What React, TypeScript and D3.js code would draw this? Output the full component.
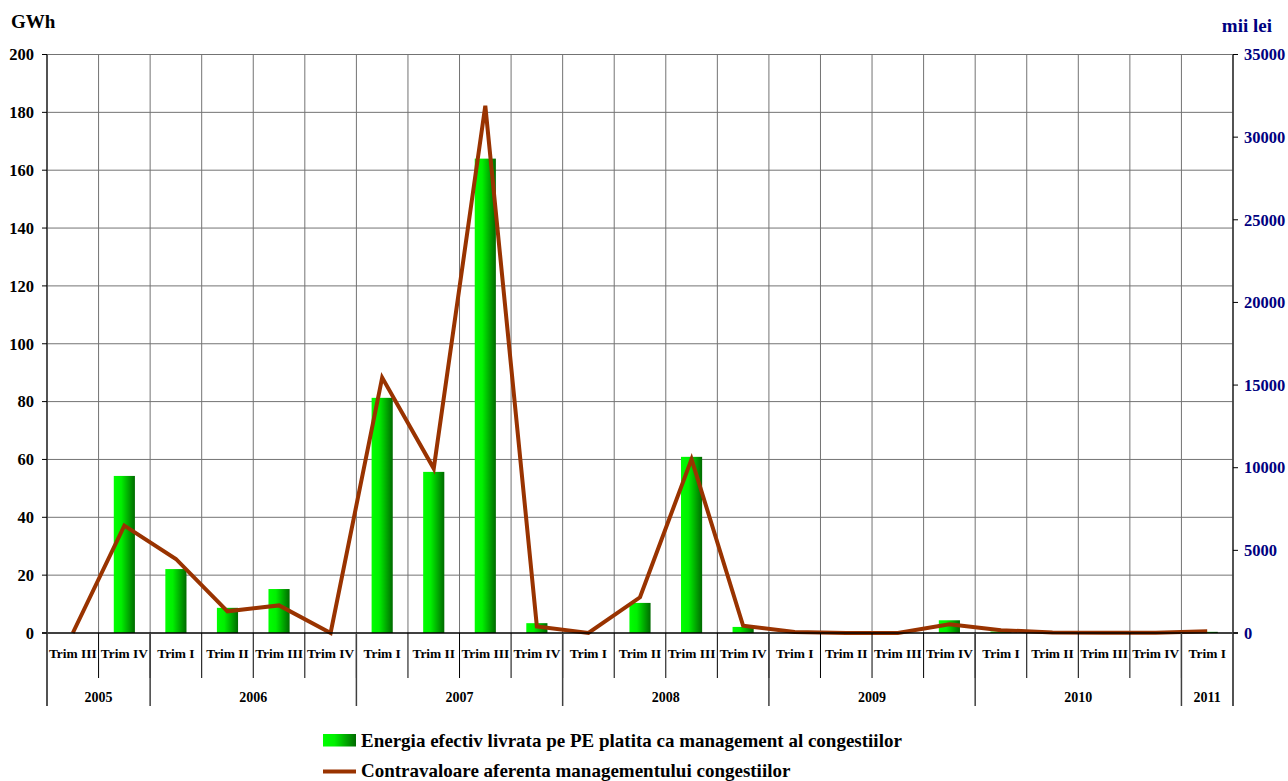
import { useEffect, useRef } from 'react'
import * as d3 from 'd3'

// quarters, in order, 2005 Trim III .. 2011 Trim I
const quarters = [
  'Trim III', 'Trim IV',
  'Trim I', 'Trim II', 'Trim III', 'Trim IV',
  'Trim I', 'Trim II', 'Trim III', 'Trim IV',
  'Trim I', 'Trim II', 'Trim III', 'Trim IV',
  'Trim I', 'Trim II', 'Trim III', 'Trim IV',
  'Trim I', 'Trim II', 'Trim III', 'Trim IV',
  'Trim I',
]

const years = ['2005', '2006', '2007', '2008', '2009', '2010', '2011']
const quartersPerYear = [2, 4, 4, 4, 4, 4, 1]

// GWh (left axis)
const energyGWh = [
  0, 54.3,
  22.1, 8.7, 15.2, 0,
  81.3, 55.7, 164, 3.4,
  0, 10.4, 60.9, 2.1,
  0, 0, 0, 4.4,
  0.5, 0, 0, 0,
  0.4,
]

// mii lei (right axis)
const valueMiiLei = [
  0, 6500,
  4480, 1310, 1670, 0,
  15450, 9950, 31900, 400,
  0, 2160, 10520, 440,
  60, 0, 0, 530,
  170, 30, 20, 20,
  110,
]

const leftTicks = [0, 20, 40, 60, 80, 100, 120, 140, 160, 180, 200]
const rightTicks = [0, 5000, 10000, 15000, 20000, 25000, 30000, 35000]

const legendBars = 'Energia efectiv livrata pe PE platita ca management al congestiilor'
const legendLine = 'Contravaloare aferenta managementului congestiilor'

const FONT = '"Liberation Serif", "Times New Roman", serif'

export default function App() {
  const svgRef = useRef<SVGSVGElement>(null)

  useEffect(() => {
    if (!svgRef.current) return
    const svg = d3.select(svgRef.current)
    svg.selectAll('*').remove()

    const left = 47
    const right = 1233
    const top = 54.5
    const zero = 633

    const idx = quarters.map((_, i) => i)
    const x = d3.scaleBand<number>().domain(idx).range([left, right]).padding(0)
    const yL = d3.scaleLinear().domain([0, 200]).range([zero, top])
    const yR = d3.scaleLinear().domain([0, 35000]).range([zero, top])
    const bw = x.bandwidth()

    const defs = svg.append('defs')
    const grad = defs.append('linearGradient')
      .attr('id', 'barGrad')
      .attr('x1', '0').attr('x2', '1').attr('y1', '0').attr('y2', '0')
    grad.append('stop').attr('offset', '0%').attr('stop-color', '#00ff00')
    grad.append('stop').attr('offset', '35%').attr('stop-color', '#00f000')
    grad.append('stop').attr('offset', '100%').attr('stop-color', '#006a00')

    // horizontal grid
    svg.append('g')
      .selectAll('line')
      .data(leftTicks.filter(d => d > 0))
      .enter().append('line')
      .attr('x1', left).attr('x2', right)
      .attr('y1', d => yL(d)).attr('y2', d => yL(d))
      .attr('stroke', '#737373').attr('stroke-width', 1)

    // vertical grid at category boundaries
    svg.append('g')
      .selectAll('line')
      .data(idx.slice(1))
      .enter().append('line')
      .attr('x1', d => x(d)!).attr('x2', d => x(d)!)
      .attr('y1', top).attr('y2', zero)
      .attr('stroke', '#737373').attr('stroke-width', 1)

    // bars
    svg.append('g')
      .selectAll('rect')
      .data(energyGWh)
      .enter().append('rect')
      .attr('x', (d, i) => x(i)! + bw * 0.295)
      .attr('width', bw * 0.41)
      .attr('y', d => yL(d))
      .attr('height', d => zero - yL(d))
      .attr('fill', 'url(#barGrad)')

    // line
    const line = d3.line<number>()
      .x((d, i) => x(i)! + bw / 2)
      .y(d => yR(d))
    svg.append('path')
      .datum(valueMiiLei)
      .attr('d', line)
      .attr('fill', 'none')
      .attr('stroke', '#993300')
      .attr('stroke-width', 4)
      .attr('stroke-linejoin', 'miter')

    // x axis line
    svg.append('line')
      .attr('x1', left - 5).attr('x2', right + 5)
      .attr('y1', zero).attr('y2', zero)
      .attr('stroke', '#000').attr('stroke-width', 1.5)

    // left axis
    const gl = svg.append('g')
    gl.append('line')
      .attr('x1', left).attr('x2', left).attr('y1', top).attr('y2', 706)
      .attr('stroke', '#404040').attr('stroke-width', 1.8)
    gl.selectAll('.tk').data(leftTicks).enter().append('line')
      .attr('x1', left - 5).attr('x2', left)
      .attr('y1', d => yL(d)).attr('y2', d => yL(d))
      .attr('stroke', '#000').attr('stroke-width', 1)
    gl.selectAll('text').data(leftTicks).enter().append('text')
      .attr('x', 34).attr('y', d => yL(d)).attr('dy', '0.35em')
      .attr('text-anchor', 'end')
      .style('font-family', FONT).style('font-weight', 'bold').style('font-size', '16.5px')
      .attr('fill', '#000')
      .text(d => d)

    // right axis
    const gr = svg.append('g')
    gr.append('line')
      .attr('x1', right).attr('x2', right).attr('y1', top).attr('y2', 706)
      .attr('stroke', '#404040').attr('stroke-width', 1.8)
    gr.selectAll('.tk').data(rightTicks).enter().append('line')
      .attr('x1', right).attr('x2', right + 5)
      .attr('y1', d => yR(d)).attr('y2', d => yR(d))
      .attr('stroke', '#000').attr('stroke-width', 1)
    gr.selectAll('text').data(rightTicks).enter().append('text')
      .attr('x', 1244).attr('y', d => yR(d)).attr('dy', '0.35em')
      .attr('text-anchor', 'start')
      .style('font-family', FONT).style('font-weight', 'bold').style('font-size', '16.5px')
      .attr('fill', '#000080')
      .text(d => d)

    // axis titles
    svg.append('text')
      .attr('x', 11).attr('y', 28)
      .style('font-family', FONT).style('font-weight', 'bold').style('font-size', '19px')
      .attr('fill', '#000')
      .text('GWh')
    svg.append('text')
      .attr('x', 1272).attr('y', 32).attr('text-anchor', 'end')
      .style('font-family', FONT).style('font-weight', 'bold').style('font-size', '19px')
      .attr('fill', '#000080')
      .text('mii lei')

    // category labels and separators
    const gx = svg.append('g')
    gx.selectAll('line').data(idx.slice(1)).enter().append('line')
      .attr('x1', d => x(d)!).attr('x2', d => x(d)!)
      .attr('y1', zero).attr('y2', 678)
      .attr('stroke', '#000').attr('stroke-width', 1)
    gx.selectAll('text').data(quarters).enter().append('text')
      .attr('x', (d, i) => x(i)! + bw / 2).attr('y', 658)
      .attr('text-anchor', 'middle')
      .style('font-family', FONT).style('font-weight', 'bold').style('font-size', '13.4px')
      .attr('fill', '#000')
      .text(d => d)

    // year groups
    const starts = d3.cumsum([0, ...quartersPerYear])
    const gy = svg.append('g')
    gy.selectAll('line').data(starts.slice(1, -1)).enter().append('line')
      .attr('x1', d => x(d)!).attr('x2', d => x(d)!)
      .attr('y1', zero).attr('y2', 706)
      .attr('stroke', '#404040').attr('stroke-width', 1.5)
    gy.selectAll('text').data(years).enter().append('text')
      .attr('x', (d, i) => {
        const a = x(starts[i])!
        const b = starts[i + 1] < quarters.length ? x(starts[i + 1])! : right
        return (a + b) / 2
      })
      .attr('y', 702)
      .attr('text-anchor', 'middle')
      .style('font-family', FONT).style('font-weight', 'bold').style('font-size', '14px')
      .attr('fill', '#000')
      .text(d => d)

    // legend
    const lg = svg.append('g')
    lg.append('rect')
      .attr('x', 323).attr('y', 734).attr('width', 33).attr('height', 12.5)
      .attr('fill', 'url(#barGrad)')
    lg.append('text')
      .attr('x', 361).attr('y', 747)
      .style('font-family', FONT).style('font-weight', 'bold').style('font-size', '19px')
      .attr('fill', '#000')
      .text(legendBars)
    lg.append('line')
      .attr('x1', 323).attr('x2', 356).attr('y1', 771.5).attr('y2', 771.5)
      .attr('stroke', '#993300').attr('stroke-width', 4)
    lg.append('text')
      .attr('x', 361).attr('y', 777)
      .style('font-family', FONT).style('font-weight', 'bold').style('font-size', '19px')
      .attr('fill', '#000')
      .text(legendLine)
  }, [])

  return (
    <svg
      ref={svgRef}
      width={1288}
      height={781}
      style={{ position: 'absolute', left: 0, top: 0, background: '#fff' }}
    />
  )
}
